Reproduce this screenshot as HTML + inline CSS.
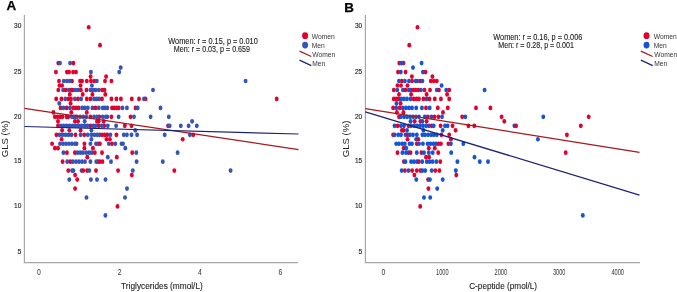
<!DOCTYPE html>
<html><head><meta charset="utf-8"><style>
html,body{margin:0;padding:0;background:#fff;width:677px;height:292px;overflow:hidden}
svg{display:block}
text{font-family:"Liberation Sans", sans-serif}
svg{will-change:transform}
</style></head><body>
<svg width="677" height="292" viewBox="0 0 677 292">
<rect width="677" height="292" fill="#fff"/>
<line x1="24.4" y1="15" x2="24.4" y2="262.6" stroke="#a6a6a6" stroke-width="1.2"/>
<line x1="23.799999999999997" y1="262.6" x2="298" y2="262.6" stroke="#a6a6a6" stroke-width="1.2"/>
<text x="6.5" y="10.4" font-size="13.4" text-anchor="start" font-weight="bold" fill="#000" stroke="#000" stroke-width="0.25">A</text>
<text x="21.3" y="28.0" font-size="8.0" text-anchor="end" font-weight="normal" fill="#222" textLength="7.3" lengthAdjust="spacingAndGlyphs" stroke="#222" stroke-width="0.15">30</text>
<text x="21.3" y="74.19999999999999" font-size="8.0" text-anchor="end" font-weight="normal" fill="#222" textLength="7.3" lengthAdjust="spacingAndGlyphs" stroke="#222" stroke-width="0.15">25</text>
<text x="21.3" y="118.89999999999999" font-size="8.0" text-anchor="end" font-weight="normal" fill="#222" textLength="7.3" lengthAdjust="spacingAndGlyphs" stroke="#222" stroke-width="0.15">20</text>
<text x="21.3" y="163.1" font-size="8.0" text-anchor="end" font-weight="normal" fill="#222" textLength="7.3" lengthAdjust="spacingAndGlyphs" stroke="#222" stroke-width="0.15">15</text>
<text x="21.3" y="207.9" font-size="8.0" text-anchor="end" font-weight="normal" fill="#222" textLength="7.3" lengthAdjust="spacingAndGlyphs" stroke="#222" stroke-width="0.15">10</text>
<text x="21.3" y="254.4" font-size="8.0" text-anchor="end" font-weight="normal" fill="#222" textLength="3.8" lengthAdjust="spacingAndGlyphs" stroke="#222" stroke-width="0.15">5</text>
<text transform="translate(7.8,138.9) rotate(-90)" x="0" y="0" font-size="9" text-anchor="middle" fill="#222" textLength="36.5" lengthAdjust="spacingAndGlyphs">GLS (%)</text>
<text x="38.8" y="274.8" font-size="8.4" text-anchor="middle" font-weight="normal" fill="#333" textLength="3.8" lengthAdjust="spacingAndGlyphs" >0</text>
<text x="119.6" y="274.8" font-size="8.4" text-anchor="middle" font-weight="normal" fill="#333" textLength="3.8" lengthAdjust="spacingAndGlyphs" >2</text>
<text x="200" y="274.8" font-size="8.4" text-anchor="middle" font-weight="normal" fill="#333" textLength="3.8" lengthAdjust="spacingAndGlyphs" >4</text>
<text x="280.5" y="274.8" font-size="8.4" text-anchor="middle" font-weight="normal" fill="#333" textLength="3.8" lengthAdjust="spacingAndGlyphs" >6</text>
<text x="121.1" y="288.9" font-size="9.2" text-anchor="start" font-weight="normal" fill="#1a1a1a" textLength="81.70000000000002" lengthAdjust="spacingAndGlyphs" stroke="#1a1a1a" stroke-width="0.1">Triglycerides (mmol/L)</text>
<ellipse cx="88.7" cy="27.26" rx="1.95" ry="2.35" fill="#e4002b"/>
<ellipse cx="100.0" cy="45.18" rx="1.95" ry="2.35" fill="#e4002b"/>
<ellipse cx="58.3" cy="63.1" rx="1.95" ry="2.35" fill="#e4002b"/>
<ellipse cx="60.0" cy="63.1" rx="1.95" ry="2.35" fill="#3355bb"/>
<ellipse cx="70.1" cy="63.1" rx="1.95" ry="2.35" fill="#3355bb"/>
<ellipse cx="73.4" cy="63.1" rx="1.95" ry="2.35" fill="#e4002b"/>
<ellipse cx="120.7" cy="67.58" rx="1.95" ry="2.35" fill="#3355bb"/>
<ellipse cx="55.9" cy="72.06" rx="1.95" ry="2.35" fill="#e4002b"/>
<ellipse cx="66.9" cy="72.06" rx="1.95" ry="2.35" fill="#e4002b"/>
<ellipse cx="69.1" cy="72.06" rx="1.95" ry="2.35" fill="#e4002b"/>
<ellipse cx="73.1" cy="72.06" rx="1.95" ry="2.35" fill="#e4002b"/>
<ellipse cx="76.0" cy="72.06" rx="1.95" ry="2.35" fill="#e4002b"/>
<ellipse cx="90.9" cy="72.06" rx="1.95" ry="2.35" fill="#3355bb"/>
<ellipse cx="119.2" cy="72.06" rx="1.95" ry="2.35" fill="#3355bb"/>
<ellipse cx="90.6" cy="76.54" rx="1.95" ry="2.35" fill="#e4002b"/>
<ellipse cx="106.1" cy="76.54" rx="1.95" ry="2.35" fill="#e4002b"/>
<ellipse cx="59.0" cy="81.02" rx="1.95" ry="2.35" fill="#e4002b"/>
<ellipse cx="72.0" cy="81.02" rx="1.95" ry="2.35" fill="#e4002b"/>
<ellipse cx="63.8" cy="81.02" rx="1.95" ry="2.35" fill="#3355bb"/>
<ellipse cx="66.9" cy="81.02" rx="1.95" ry="2.35" fill="#3355bb"/>
<ellipse cx="69.8" cy="81.02" rx="1.95" ry="2.35" fill="#3355bb"/>
<ellipse cx="80.1" cy="81.02" rx="1.95" ry="2.35" fill="#e4002b"/>
<ellipse cx="82.1" cy="81.02" rx="1.95" ry="2.35" fill="#e4002b"/>
<ellipse cx="86.8" cy="81.02" rx="1.95" ry="2.35" fill="#e4002b"/>
<ellipse cx="90.9" cy="81.02" rx="1.95" ry="2.35" fill="#e4002b"/>
<ellipse cx="94.2" cy="81.02" rx="1.95" ry="2.35" fill="#e4002b"/>
<ellipse cx="96.8" cy="81.02" rx="1.95" ry="2.35" fill="#3355bb"/>
<ellipse cx="105.0" cy="81.02" rx="1.95" ry="2.35" fill="#e4002b"/>
<ellipse cx="111.4" cy="81.02" rx="1.95" ry="2.35" fill="#e4002b"/>
<ellipse cx="245.6" cy="81.02" rx="1.95" ry="2.35" fill="#3355bb"/>
<ellipse cx="59.5" cy="85.5" rx="1.95" ry="2.35" fill="#e4002b"/>
<ellipse cx="62.1" cy="85.5" rx="1.95" ry="2.35" fill="#e4002b"/>
<ellipse cx="80.6" cy="85.5" rx="1.95" ry="2.35" fill="#e4002b"/>
<ellipse cx="91.9" cy="85.5" rx="1.95" ry="2.35" fill="#3355bb"/>
<ellipse cx="58.3" cy="89.98" rx="1.95" ry="2.35" fill="#e4002b"/>
<ellipse cx="63.1" cy="89.98" rx="1.95" ry="2.35" fill="#3355bb"/>
<ellipse cx="65.7" cy="89.98" rx="1.95" ry="2.35" fill="#e4002b"/>
<ellipse cx="68.8" cy="89.98" rx="1.95" ry="2.35" fill="#3355bb"/>
<ellipse cx="71.3" cy="89.98" rx="1.95" ry="2.35" fill="#e4002b"/>
<ellipse cx="72.9" cy="89.98" rx="1.95" ry="2.35" fill="#e4002b"/>
<ellipse cx="75.5" cy="89.98" rx="1.95" ry="2.35" fill="#3355bb"/>
<ellipse cx="78.2" cy="89.98" rx="1.95" ry="2.35" fill="#3355bb"/>
<ellipse cx="80.9" cy="89.98" rx="1.95" ry="2.35" fill="#e4002b"/>
<ellipse cx="86.5" cy="89.98" rx="1.95" ry="2.35" fill="#e4002b"/>
<ellipse cx="90.4" cy="89.98" rx="1.95" ry="2.35" fill="#3355bb"/>
<ellipse cx="92.9" cy="89.98" rx="1.95" ry="2.35" fill="#3355bb"/>
<ellipse cx="95.5" cy="89.98" rx="1.95" ry="2.35" fill="#3355bb"/>
<ellipse cx="98.8" cy="89.98" rx="1.95" ry="2.35" fill="#3355bb"/>
<ellipse cx="102.2" cy="89.98" rx="1.95" ry="2.35" fill="#e4002b"/>
<ellipse cx="104.5" cy="89.98" rx="1.95" ry="2.35" fill="#e4002b"/>
<ellipse cx="153.0" cy="89.98" rx="1.95" ry="2.35" fill="#3355bb"/>
<ellipse cx="69.8" cy="94.46" rx="1.95" ry="2.35" fill="#e4002b"/>
<ellipse cx="82.7" cy="94.46" rx="1.95" ry="2.35" fill="#e4002b"/>
<ellipse cx="92.4" cy="94.46" rx="1.95" ry="2.35" fill="#e4002b"/>
<ellipse cx="105.3" cy="94.46" rx="1.95" ry="2.35" fill="#e4002b"/>
<ellipse cx="56.2" cy="98.94" rx="1.95" ry="2.35" fill="#e4002b"/>
<ellipse cx="61.4" cy="98.94" rx="1.95" ry="2.35" fill="#e4002b"/>
<ellipse cx="65.2" cy="98.94" rx="1.95" ry="2.35" fill="#3355bb"/>
<ellipse cx="68.3" cy="98.94" rx="1.95" ry="2.35" fill="#e4002b"/>
<ellipse cx="71.0" cy="98.94" rx="1.95" ry="2.35" fill="#e4002b"/>
<ellipse cx="74.9" cy="98.94" rx="1.95" ry="2.35" fill="#3355bb"/>
<ellipse cx="78.0" cy="98.94" rx="1.95" ry="2.35" fill="#e4002b"/>
<ellipse cx="81.1" cy="98.94" rx="1.95" ry="2.35" fill="#3355bb"/>
<ellipse cx="86.8" cy="98.94" rx="1.95" ry="2.35" fill="#e4002b"/>
<ellipse cx="90.4" cy="98.94" rx="1.95" ry="2.35" fill="#e4002b"/>
<ellipse cx="94.0" cy="98.94" rx="1.95" ry="2.35" fill="#3355bb"/>
<ellipse cx="96.5" cy="98.94" rx="1.95" ry="2.35" fill="#3355bb"/>
<ellipse cx="99.1" cy="98.94" rx="1.95" ry="2.35" fill="#3355bb"/>
<ellipse cx="102.0" cy="98.94" rx="1.95" ry="2.35" fill="#e4002b"/>
<ellipse cx="111.4" cy="98.94" rx="1.95" ry="2.35" fill="#e4002b"/>
<ellipse cx="116.4" cy="98.94" rx="1.95" ry="2.35" fill="#e4002b"/>
<ellipse cx="120.9" cy="98.94" rx="1.95" ry="2.35" fill="#e4002b"/>
<ellipse cx="131.8" cy="98.94" rx="1.95" ry="2.35" fill="#e4002b"/>
<ellipse cx="139.0" cy="98.94" rx="1.95" ry="2.35" fill="#e4002b"/>
<ellipse cx="145.5" cy="98.94" rx="1.95" ry="2.35" fill="#e4002b"/>
<ellipse cx="144.0" cy="98.94" rx="1.95" ry="2.35" fill="#3355bb"/>
<ellipse cx="276.7" cy="98.94" rx="1.95" ry="2.35" fill="#e4002b"/>
<ellipse cx="59.3" cy="103.42" rx="1.95" ry="2.35" fill="#3355bb"/>
<ellipse cx="70.6" cy="103.42" rx="1.95" ry="2.35" fill="#e4002b"/>
<ellipse cx="60.6" cy="107.9" rx="1.95" ry="2.35" fill="#e4002b"/>
<ellipse cx="63.4" cy="107.9" rx="1.95" ry="2.35" fill="#3355bb"/>
<ellipse cx="66.7" cy="107.9" rx="1.95" ry="2.35" fill="#e4002b"/>
<ellipse cx="70.0" cy="107.9" rx="1.95" ry="2.35" fill="#3355bb"/>
<ellipse cx="73.4" cy="107.9" rx="1.95" ry="2.35" fill="#e4002b"/>
<ellipse cx="76.0" cy="107.9" rx="1.95" ry="2.35" fill="#e4002b"/>
<ellipse cx="78.5" cy="107.9" rx="1.95" ry="2.35" fill="#e4002b"/>
<ellipse cx="82.1" cy="107.9" rx="1.95" ry="2.35" fill="#3355bb"/>
<ellipse cx="84.7" cy="107.9" rx="1.95" ry="2.35" fill="#3355bb"/>
<ellipse cx="87.8" cy="107.9" rx="1.95" ry="2.35" fill="#3355bb"/>
<ellipse cx="92.4" cy="107.9" rx="1.95" ry="2.35" fill="#3355bb"/>
<ellipse cx="95.5" cy="107.9" rx="1.95" ry="2.35" fill="#e4002b"/>
<ellipse cx="98.8" cy="107.9" rx="1.95" ry="2.35" fill="#3355bb"/>
<ellipse cx="102.7" cy="107.9" rx="1.95" ry="2.35" fill="#3355bb"/>
<ellipse cx="104.8" cy="107.9" rx="1.95" ry="2.35" fill="#3355bb"/>
<ellipse cx="107.3" cy="107.9" rx="1.95" ry="2.35" fill="#3355bb"/>
<ellipse cx="112.0" cy="107.9" rx="1.95" ry="2.35" fill="#e4002b"/>
<ellipse cx="114.0" cy="107.9" rx="1.95" ry="2.35" fill="#e4002b"/>
<ellipse cx="116.6" cy="107.9" rx="1.95" ry="2.35" fill="#e4002b"/>
<ellipse cx="118.8" cy="107.9" rx="1.95" ry="2.35" fill="#e4002b"/>
<ellipse cx="122.5" cy="107.9" rx="1.95" ry="2.35" fill="#3355bb"/>
<ellipse cx="126.9" cy="107.9" rx="1.95" ry="2.35" fill="#3355bb"/>
<ellipse cx="135.6" cy="107.9" rx="1.95" ry="2.35" fill="#e4002b"/>
<ellipse cx="137.7" cy="107.9" rx="1.95" ry="2.35" fill="#3355bb"/>
<ellipse cx="160.5" cy="107.9" rx="1.95" ry="2.35" fill="#3355bb"/>
<ellipse cx="53.4" cy="112.38" rx="1.95" ry="2.35" fill="#e4002b"/>
<ellipse cx="71.3" cy="112.38" rx="1.95" ry="2.35" fill="#e4002b"/>
<ellipse cx="86.8" cy="112.38" rx="1.95" ry="2.35" fill="#e4002b"/>
<ellipse cx="54.9" cy="116.86" rx="1.95" ry="2.35" fill="#e4002b"/>
<ellipse cx="57.5" cy="116.86" rx="1.95" ry="2.35" fill="#e4002b"/>
<ellipse cx="60.0" cy="116.86" rx="1.95" ry="2.35" fill="#e4002b"/>
<ellipse cx="62.4" cy="116.86" rx="1.95" ry="2.35" fill="#e4002b"/>
<ellipse cx="66.5" cy="116.86" rx="1.95" ry="2.35" fill="#e4002b"/>
<ellipse cx="68.3" cy="116.86" rx="1.95" ry="2.35" fill="#e4002b"/>
<ellipse cx="75.5" cy="116.86" rx="1.95" ry="2.35" fill="#e4002b"/>
<ellipse cx="71.9" cy="116.86" rx="1.95" ry="2.35" fill="#3355bb"/>
<ellipse cx="73.9" cy="116.86" rx="1.95" ry="2.35" fill="#3355bb"/>
<ellipse cx="77.0" cy="116.86" rx="1.95" ry="2.35" fill="#3355bb"/>
<ellipse cx="80.1" cy="116.86" rx="1.95" ry="2.35" fill="#3355bb"/>
<ellipse cx="83.2" cy="116.86" rx="1.95" ry="2.35" fill="#3355bb"/>
<ellipse cx="86.2" cy="116.86" rx="1.95" ry="2.35" fill="#3355bb"/>
<ellipse cx="90.4" cy="116.86" rx="1.95" ry="2.35" fill="#e4002b"/>
<ellipse cx="99.3" cy="116.86" rx="1.95" ry="2.35" fill="#e4002b"/>
<ellipse cx="94.0" cy="116.86" rx="1.95" ry="2.35" fill="#3355bb"/>
<ellipse cx="97.0" cy="116.86" rx="1.95" ry="2.35" fill="#3355bb"/>
<ellipse cx="102.7" cy="116.86" rx="1.95" ry="2.35" fill="#3355bb"/>
<ellipse cx="105.8" cy="116.86" rx="1.95" ry="2.35" fill="#3355bb"/>
<ellipse cx="107.3" cy="116.86" rx="1.95" ry="2.35" fill="#3355bb"/>
<ellipse cx="111.4" cy="116.86" rx="1.95" ry="2.35" fill="#e4002b"/>
<ellipse cx="118.6" cy="116.86" rx="1.95" ry="2.35" fill="#3355bb"/>
<ellipse cx="130.5" cy="116.86" rx="1.95" ry="2.35" fill="#e4002b"/>
<ellipse cx="134.0" cy="116.86" rx="1.95" ry="2.35" fill="#3355bb"/>
<ellipse cx="150.6" cy="116.86" rx="1.95" ry="2.35" fill="#3355bb"/>
<ellipse cx="168.8" cy="116.86" rx="1.95" ry="2.35" fill="#3355bb"/>
<ellipse cx="58.0" cy="121.34" rx="1.95" ry="2.35" fill="#e4002b"/>
<ellipse cx="74.9" cy="121.34" rx="1.95" ry="2.35" fill="#e4002b"/>
<ellipse cx="78.0" cy="121.34" rx="1.95" ry="2.35" fill="#e4002b"/>
<ellipse cx="84.7" cy="121.34" rx="1.95" ry="2.35" fill="#3355bb"/>
<ellipse cx="97.0" cy="121.34" rx="1.95" ry="2.35" fill="#e4002b"/>
<ellipse cx="98.6" cy="121.34" rx="1.95" ry="2.35" fill="#e4002b"/>
<ellipse cx="103.7" cy="121.34" rx="1.95" ry="2.35" fill="#e4002b"/>
<ellipse cx="192.1" cy="121.34" rx="1.95" ry="2.35" fill="#3355bb"/>
<ellipse cx="58.0" cy="125.82" rx="1.95" ry="2.35" fill="#e4002b"/>
<ellipse cx="90.4" cy="125.82" rx="1.95" ry="2.35" fill="#e4002b"/>
<ellipse cx="98.6" cy="125.82" rx="1.95" ry="2.35" fill="#e4002b"/>
<ellipse cx="104.2" cy="125.82" rx="1.95" ry="2.35" fill="#e4002b"/>
<ellipse cx="60.6" cy="125.82" rx="1.95" ry="2.35" fill="#3355bb"/>
<ellipse cx="63.5" cy="125.82" rx="1.95" ry="2.35" fill="#3355bb"/>
<ellipse cx="66.5" cy="125.82" rx="1.95" ry="2.35" fill="#3355bb"/>
<ellipse cx="69.5" cy="125.82" rx="1.95" ry="2.35" fill="#3355bb"/>
<ellipse cx="72.5" cy="125.82" rx="1.95" ry="2.35" fill="#3355bb"/>
<ellipse cx="75.5" cy="125.82" rx="1.95" ry="2.35" fill="#3355bb"/>
<ellipse cx="78.5" cy="125.82" rx="1.95" ry="2.35" fill="#3355bb"/>
<ellipse cx="81.5" cy="125.82" rx="1.95" ry="2.35" fill="#3355bb"/>
<ellipse cx="84.5" cy="125.82" rx="1.95" ry="2.35" fill="#3355bb"/>
<ellipse cx="87.5" cy="125.82" rx="1.95" ry="2.35" fill="#3355bb"/>
<ellipse cx="93.4" cy="125.82" rx="1.95" ry="2.35" fill="#3355bb"/>
<ellipse cx="95.5" cy="125.82" rx="1.95" ry="2.35" fill="#3355bb"/>
<ellipse cx="101.7" cy="125.82" rx="1.95" ry="2.35" fill="#3355bb"/>
<ellipse cx="107.8" cy="125.82" rx="1.95" ry="2.35" fill="#3355bb"/>
<ellipse cx="116.1" cy="125.82" rx="1.95" ry="2.35" fill="#3355bb"/>
<ellipse cx="124.8" cy="125.82" rx="1.95" ry="2.35" fill="#e4002b"/>
<ellipse cx="131.5" cy="125.82" rx="1.95" ry="2.35" fill="#e4002b"/>
<ellipse cx="168.1" cy="125.82" rx="1.95" ry="2.35" fill="#e4002b"/>
<ellipse cx="169.7" cy="125.82" rx="1.95" ry="2.35" fill="#3355bb"/>
<ellipse cx="180.8" cy="125.82" rx="1.95" ry="2.35" fill="#3355bb"/>
<ellipse cx="188.6" cy="125.82" rx="1.95" ry="2.35" fill="#3355bb"/>
<ellipse cx="196.8" cy="125.82" rx="1.95" ry="2.35" fill="#3355bb"/>
<ellipse cx="62.1" cy="130.3" rx="1.95" ry="2.35" fill="#e4002b"/>
<ellipse cx="69.3" cy="130.3" rx="1.95" ry="2.35" fill="#e4002b"/>
<ellipse cx="80.6" cy="130.3" rx="1.95" ry="2.35" fill="#e4002b"/>
<ellipse cx="91.4" cy="130.3" rx="1.95" ry="2.35" fill="#3355bb"/>
<ellipse cx="135.3" cy="130.3" rx="1.95" ry="2.35" fill="#3355bb"/>
<ellipse cx="56.4" cy="134.78" rx="1.95" ry="2.35" fill="#e4002b"/>
<ellipse cx="59.5" cy="134.78" rx="1.95" ry="2.35" fill="#3355bb"/>
<ellipse cx="62.5" cy="134.78" rx="1.95" ry="2.35" fill="#3355bb"/>
<ellipse cx="65.5" cy="134.78" rx="1.95" ry="2.35" fill="#3355bb"/>
<ellipse cx="68.5" cy="134.78" rx="1.95" ry="2.35" fill="#3355bb"/>
<ellipse cx="71.5" cy="134.78" rx="1.95" ry="2.35" fill="#3355bb"/>
<ellipse cx="75.5" cy="134.78" rx="1.95" ry="2.35" fill="#e4002b"/>
<ellipse cx="80.6" cy="134.78" rx="1.95" ry="2.35" fill="#3355bb"/>
<ellipse cx="84.2" cy="134.78" rx="1.95" ry="2.35" fill="#e4002b"/>
<ellipse cx="87.8" cy="134.78" rx="1.95" ry="2.35" fill="#3355bb"/>
<ellipse cx="91.4" cy="134.78" rx="1.95" ry="2.35" fill="#3355bb"/>
<ellipse cx="94.5" cy="134.78" rx="1.95" ry="2.35" fill="#3355bb"/>
<ellipse cx="97.3" cy="134.78" rx="1.95" ry="2.35" fill="#3355bb"/>
<ellipse cx="99.6" cy="134.78" rx="1.95" ry="2.35" fill="#3355bb"/>
<ellipse cx="102.2" cy="134.78" rx="1.95" ry="2.35" fill="#e4002b"/>
<ellipse cx="104.8" cy="134.78" rx="1.95" ry="2.35" fill="#e4002b"/>
<ellipse cx="107.3" cy="134.78" rx="1.95" ry="2.35" fill="#e4002b"/>
<ellipse cx="110.4" cy="134.78" rx="1.95" ry="2.35" fill="#3355bb"/>
<ellipse cx="116.4" cy="134.78" rx="1.95" ry="2.35" fill="#e4002b"/>
<ellipse cx="123.8" cy="134.78" rx="1.95" ry="2.35" fill="#3355bb"/>
<ellipse cx="126.9" cy="134.78" rx="1.95" ry="2.35" fill="#3355bb"/>
<ellipse cx="131.5" cy="134.78" rx="1.95" ry="2.35" fill="#3355bb"/>
<ellipse cx="137.1" cy="134.78" rx="1.95" ry="2.35" fill="#3355bb"/>
<ellipse cx="164.7" cy="134.78" rx="1.95" ry="2.35" fill="#3355bb"/>
<ellipse cx="189.9" cy="134.78" rx="1.95" ry="2.35" fill="#3355bb"/>
<ellipse cx="193.3" cy="134.78" rx="1.95" ry="2.35" fill="#e4002b"/>
<ellipse cx="61.6" cy="139.26" rx="1.95" ry="2.35" fill="#e4002b"/>
<ellipse cx="91.4" cy="139.26" rx="1.95" ry="2.35" fill="#3355bb"/>
<ellipse cx="106.5" cy="139.26" rx="1.95" ry="2.35" fill="#e4002b"/>
<ellipse cx="109.9" cy="139.26" rx="1.95" ry="2.35" fill="#e4002b"/>
<ellipse cx="182.7" cy="139.26" rx="1.95" ry="2.35" fill="#e4002b"/>
<ellipse cx="52.1" cy="143.74" rx="1.95" ry="2.35" fill="#e4002b"/>
<ellipse cx="60.0" cy="143.74" rx="1.95" ry="2.35" fill="#3355bb"/>
<ellipse cx="63.0" cy="143.74" rx="1.95" ry="2.35" fill="#3355bb"/>
<ellipse cx="66.0" cy="143.74" rx="1.95" ry="2.35" fill="#3355bb"/>
<ellipse cx="69.0" cy="143.74" rx="1.95" ry="2.35" fill="#3355bb"/>
<ellipse cx="72.0" cy="143.74" rx="1.95" ry="2.35" fill="#3355bb"/>
<ellipse cx="75.0" cy="143.74" rx="1.95" ry="2.35" fill="#3355bb"/>
<ellipse cx="76.5" cy="143.74" rx="1.95" ry="2.35" fill="#3355bb"/>
<ellipse cx="84.4" cy="143.74" rx="1.95" ry="2.35" fill="#e4002b"/>
<ellipse cx="90.4" cy="143.74" rx="1.95" ry="2.35" fill="#3355bb"/>
<ellipse cx="96.0" cy="143.74" rx="1.95" ry="2.35" fill="#3355bb"/>
<ellipse cx="98.1" cy="143.74" rx="1.95" ry="2.35" fill="#3355bb"/>
<ellipse cx="99.9" cy="143.74" rx="1.95" ry="2.35" fill="#e4002b"/>
<ellipse cx="108.9" cy="143.74" rx="1.95" ry="2.35" fill="#3355bb"/>
<ellipse cx="112.0" cy="143.74" rx="1.95" ry="2.35" fill="#e4002b"/>
<ellipse cx="115.3" cy="143.74" rx="1.95" ry="2.35" fill="#3355bb"/>
<ellipse cx="121.5" cy="143.74" rx="1.95" ry="2.35" fill="#3355bb"/>
<ellipse cx="123.0" cy="143.74" rx="1.95" ry="2.35" fill="#3355bb"/>
<ellipse cx="54.9" cy="148.22" rx="1.95" ry="2.35" fill="#e4002b"/>
<ellipse cx="58.0" cy="148.22" rx="1.95" ry="2.35" fill="#e4002b"/>
<ellipse cx="84.4" cy="148.22" rx="1.95" ry="2.35" fill="#e4002b"/>
<ellipse cx="92.9" cy="148.22" rx="1.95" ry="2.35" fill="#e4002b"/>
<ellipse cx="125.3" cy="148.22" rx="1.95" ry="2.35" fill="#3355bb"/>
<ellipse cx="63.4" cy="152.7" rx="1.95" ry="2.35" fill="#3355bb"/>
<ellipse cx="66.9" cy="152.7" rx="1.95" ry="2.35" fill="#e4002b"/>
<ellipse cx="74.9" cy="152.7" rx="1.95" ry="2.35" fill="#e4002b"/>
<ellipse cx="77.5" cy="152.7" rx="1.95" ry="2.35" fill="#3355bb"/>
<ellipse cx="80.3" cy="152.7" rx="1.95" ry="2.35" fill="#3355bb"/>
<ellipse cx="83.0" cy="152.7" rx="1.95" ry="2.35" fill="#3355bb"/>
<ellipse cx="86.2" cy="152.7" rx="1.95" ry="2.35" fill="#3355bb"/>
<ellipse cx="89.3" cy="152.7" rx="1.95" ry="2.35" fill="#3355bb"/>
<ellipse cx="91.9" cy="152.7" rx="1.95" ry="2.35" fill="#3355bb"/>
<ellipse cx="94.8" cy="152.7" rx="1.95" ry="2.35" fill="#e4002b"/>
<ellipse cx="102.0" cy="152.7" rx="1.95" ry="2.35" fill="#e4002b"/>
<ellipse cx="132.2" cy="152.7" rx="1.95" ry="2.35" fill="#e4002b"/>
<ellipse cx="136.3" cy="152.7" rx="1.95" ry="2.35" fill="#3355bb"/>
<ellipse cx="177.6" cy="152.7" rx="1.95" ry="2.35" fill="#3355bb"/>
<ellipse cx="87.3" cy="157.18" rx="1.95" ry="2.35" fill="#e4002b"/>
<ellipse cx="107.8" cy="157.18" rx="1.95" ry="2.35" fill="#3355bb"/>
<ellipse cx="116.8" cy="157.18" rx="1.95" ry="2.35" fill="#e4002b"/>
<ellipse cx="62.6" cy="161.66" rx="1.95" ry="2.35" fill="#e4002b"/>
<ellipse cx="67.2" cy="161.66" rx="1.95" ry="2.35" fill="#3355bb"/>
<ellipse cx="70.3" cy="161.66" rx="1.95" ry="2.35" fill="#e4002b"/>
<ellipse cx="72.9" cy="161.66" rx="1.95" ry="2.35" fill="#3355bb"/>
<ellipse cx="76.0" cy="161.66" rx="1.95" ry="2.35" fill="#3355bb"/>
<ellipse cx="79.0" cy="161.66" rx="1.95" ry="2.35" fill="#3355bb"/>
<ellipse cx="82.0" cy="161.66" rx="1.95" ry="2.35" fill="#3355bb"/>
<ellipse cx="85.0" cy="161.66" rx="1.95" ry="2.35" fill="#3355bb"/>
<ellipse cx="90.4" cy="161.66" rx="1.95" ry="2.35" fill="#3355bb"/>
<ellipse cx="96.3" cy="161.66" rx="1.95" ry="2.35" fill="#3355bb"/>
<ellipse cx="97.9" cy="161.66" rx="1.95" ry="2.35" fill="#3355bb"/>
<ellipse cx="99.6" cy="161.66" rx="1.95" ry="2.35" fill="#e4002b"/>
<ellipse cx="102.4" cy="161.66" rx="1.95" ry="2.35" fill="#e4002b"/>
<ellipse cx="111.0" cy="161.66" rx="1.95" ry="2.35" fill="#3355bb"/>
<ellipse cx="136.6" cy="161.66" rx="1.95" ry="2.35" fill="#3355bb"/>
<ellipse cx="162.8" cy="161.66" rx="1.95" ry="2.35" fill="#3355bb"/>
<ellipse cx="68.3" cy="170.62" rx="1.95" ry="2.35" fill="#e4002b"/>
<ellipse cx="72.1" cy="170.62" rx="1.95" ry="2.35" fill="#3355bb"/>
<ellipse cx="73.4" cy="170.62" rx="1.95" ry="2.35" fill="#3355bb"/>
<ellipse cx="81.6" cy="170.62" rx="1.95" ry="2.35" fill="#3355bb"/>
<ellipse cx="83.2" cy="170.62" rx="1.95" ry="2.35" fill="#e4002b"/>
<ellipse cx="87.1" cy="170.62" rx="1.95" ry="2.35" fill="#e4002b"/>
<ellipse cx="89.3" cy="170.62" rx="1.95" ry="2.35" fill="#3355bb"/>
<ellipse cx="96.0" cy="170.62" rx="1.95" ry="2.35" fill="#e4002b"/>
<ellipse cx="118.1" cy="170.62" rx="1.95" ry="2.35" fill="#e4002b"/>
<ellipse cx="132.8" cy="170.62" rx="1.95" ry="2.35" fill="#3355bb"/>
<ellipse cx="174.3" cy="170.62" rx="1.95" ry="2.35" fill="#e4002b"/>
<ellipse cx="230.6" cy="170.62" rx="1.95" ry="2.35" fill="#3355bb"/>
<ellipse cx="75.1" cy="175.1" rx="1.95" ry="2.35" fill="#e4002b"/>
<ellipse cx="131.8" cy="175.1" rx="1.95" ry="2.35" fill="#e4002b"/>
<ellipse cx="69.3" cy="179.58" rx="1.95" ry="2.35" fill="#3355bb"/>
<ellipse cx="77.2" cy="179.58" rx="1.95" ry="2.35" fill="#e4002b"/>
<ellipse cx="90.9" cy="179.58" rx="1.95" ry="2.35" fill="#3355bb"/>
<ellipse cx="97.0" cy="179.58" rx="1.95" ry="2.35" fill="#3355bb"/>
<ellipse cx="105.5" cy="179.58" rx="1.95" ry="2.35" fill="#3355bb"/>
<ellipse cx="75.1" cy="188.54" rx="1.95" ry="2.35" fill="#e4002b"/>
<ellipse cx="127.0" cy="188.54" rx="1.95" ry="2.35" fill="#3355bb"/>
<ellipse cx="86.5" cy="197.5" rx="1.95" ry="2.35" fill="#3355bb"/>
<ellipse cx="125.0" cy="197.5" rx="1.95" ry="2.35" fill="#3355bb"/>
<ellipse cx="117.5" cy="206.46" rx="1.95" ry="2.35" fill="#e4002b"/>
<ellipse cx="105.4" cy="215.42" rx="1.95" ry="2.35" fill="#3355bb"/>
<line x1="24.4" y1="108.3" x2="298.5" y2="149.6" stroke="#a8181c" stroke-width="1.25"/>
<line x1="24.4" y1="126.5" x2="298.5" y2="134" stroke="#1e2272" stroke-width="1.25"/>
<text x="168.3" y="44.2" font-size="8.9" text-anchor="start" font-weight="normal" fill="#1a1a1a" textLength="89.5" lengthAdjust="spacingAndGlyphs" stroke="#1a1a1a" stroke-width="0.12">Women: r = 0.15, p = 0.010</text>
<text x="173.8" y="52.2" font-size="8.9" text-anchor="start" font-weight="normal" fill="#1a1a1a" textLength="76.2" lengthAdjust="spacingAndGlyphs" stroke="#1a1a1a" stroke-width="0.12">Men: r = 0.03, p = 0.659</text>
<ellipse cx="305.1" cy="35.7" rx="3.0" ry="3.4" fill="#e4002b"/>
<ellipse cx="305.1" cy="45.1" rx="3.0" ry="3.4" fill="#3355bb"/>
<line x1="299.5" y1="51.1" x2="311.3" y2="56.5" stroke="#a8181c" stroke-width="1.2"/>
<line x1="299.5" y1="60.1" x2="311.3" y2="65.6" stroke="#1e2272" stroke-width="1.2"/>
<text x="311.8" y="39.3" font-size="7.7" text-anchor="start" font-weight="normal" fill="#333" textLength="23" lengthAdjust="spacingAndGlyphs" >Women</text>
<text x="311.8" y="47.8" font-size="7.7" text-anchor="start" font-weight="normal" fill="#333" textLength="13" lengthAdjust="spacingAndGlyphs" >Men</text>
<text x="312.3" y="56.7" font-size="7.7" text-anchor="start" font-weight="normal" fill="#333" textLength="23" lengthAdjust="spacingAndGlyphs" >Women</text>
<text x="312.3" y="65.7" font-size="7.7" text-anchor="start" font-weight="normal" fill="#333" textLength="13" lengthAdjust="spacingAndGlyphs" >Men</text>
<line x1="365.4" y1="15" x2="365.4" y2="262.6" stroke="#a6a6a6" stroke-width="1.2"/>
<line x1="364.79999999999995" y1="262.6" x2="640" y2="262.6" stroke="#a6a6a6" stroke-width="1.2"/>
<text x="344.3" y="12.4" font-size="13.4" text-anchor="start" font-weight="bold" fill="#000" stroke="#000" stroke-width="0.25">B</text>
<text x="362.2" y="28.0" font-size="8.0" text-anchor="end" font-weight="normal" fill="#222" textLength="7.3" lengthAdjust="spacingAndGlyphs" stroke="#222" stroke-width="0.15">30</text>
<text x="362.2" y="74.19999999999999" font-size="8.0" text-anchor="end" font-weight="normal" fill="#222" textLength="7.3" lengthAdjust="spacingAndGlyphs" stroke="#222" stroke-width="0.15">25</text>
<text x="362.2" y="118.89999999999999" font-size="8.0" text-anchor="end" font-weight="normal" fill="#222" textLength="7.3" lengthAdjust="spacingAndGlyphs" stroke="#222" stroke-width="0.15">20</text>
<text x="362.2" y="163.1" font-size="8.0" text-anchor="end" font-weight="normal" fill="#222" textLength="7.3" lengthAdjust="spacingAndGlyphs" stroke="#222" stroke-width="0.15">15</text>
<text x="362.2" y="207.9" font-size="8.0" text-anchor="end" font-weight="normal" fill="#222" textLength="7.3" lengthAdjust="spacingAndGlyphs" stroke="#222" stroke-width="0.15">10</text>
<text x="362.2" y="254.4" font-size="8.0" text-anchor="end" font-weight="normal" fill="#222" textLength="3.8" lengthAdjust="spacingAndGlyphs" stroke="#222" stroke-width="0.15">5</text>
<text transform="translate(348.8,138.9) rotate(-90)" x="0" y="0" font-size="9" text-anchor="middle" fill="#222" textLength="36.5" lengthAdjust="spacingAndGlyphs">GLS (%)</text>
<text x="383.5" y="274.8" font-size="8.4" text-anchor="middle" font-weight="normal" fill="#333" textLength="3.8" lengthAdjust="spacingAndGlyphs" >0</text>
<text x="442.3" y="274.8" font-size="8.4" text-anchor="middle" font-weight="normal" fill="#333" textLength="12.5" lengthAdjust="spacingAndGlyphs" >1000</text>
<text x="500.8" y="274.8" font-size="8.4" text-anchor="middle" font-weight="normal" fill="#333" textLength="12.5" lengthAdjust="spacingAndGlyphs" >2000</text>
<text x="559.2" y="274.8" font-size="8.4" text-anchor="middle" font-weight="normal" fill="#333" textLength="12.5" lengthAdjust="spacingAndGlyphs" >3000</text>
<text x="617.7" y="274.8" font-size="8.4" text-anchor="middle" font-weight="normal" fill="#333" textLength="12.5" lengthAdjust="spacingAndGlyphs" >4000</text>
<text x="469.2" y="288.9" font-size="9.2" text-anchor="start" font-weight="normal" fill="#1a1a1a" textLength="67.90000000000003" lengthAdjust="spacingAndGlyphs" stroke="#1a1a1a" stroke-width="0.1">C-peptide (pmol/L)</text>
<ellipse cx="417.5" cy="27.26" rx="1.95" ry="2.35" fill="#e4002b"/>
<ellipse cx="409.3" cy="45.18" rx="1.95" ry="2.35" fill="#e4002b"/>
<ellipse cx="399.3" cy="63.1" rx="1.95" ry="2.35" fill="#e4002b"/>
<ellipse cx="403.4" cy="63.1" rx="1.95" ry="2.35" fill="#e4002b"/>
<ellipse cx="401.3" cy="63.1" rx="1.95" ry="2.35" fill="#1455d6"/>
<ellipse cx="421.6" cy="63.1" rx="1.95" ry="2.35" fill="#1455d6"/>
<ellipse cx="413.0" cy="67.58" rx="1.95" ry="2.35" fill="#1455d6"/>
<ellipse cx="398.0" cy="72.06" rx="1.95" ry="2.35" fill="#e4002b"/>
<ellipse cx="405.5" cy="72.06" rx="1.95" ry="2.35" fill="#e4002b"/>
<ellipse cx="400.8" cy="72.06" rx="1.95" ry="2.35" fill="#1455d6"/>
<ellipse cx="422.9" cy="72.06" rx="1.95" ry="2.35" fill="#1455d6"/>
<ellipse cx="425.5" cy="72.06" rx="1.95" ry="2.35" fill="#e4002b"/>
<ellipse cx="411.9" cy="76.54" rx="1.95" ry="2.35" fill="#e4002b"/>
<ellipse cx="432.4" cy="76.54" rx="1.95" ry="2.35" fill="#e4002b"/>
<ellipse cx="399.0" cy="81.02" rx="1.95" ry="2.35" fill="#1455d6"/>
<ellipse cx="401.9" cy="81.02" rx="1.95" ry="2.35" fill="#e4002b"/>
<ellipse cx="404.9" cy="81.02" rx="1.95" ry="2.35" fill="#1455d6"/>
<ellipse cx="409.0" cy="81.02" rx="1.95" ry="2.35" fill="#1455d6"/>
<ellipse cx="412.1" cy="81.02" rx="1.95" ry="2.35" fill="#e4002b"/>
<ellipse cx="415.7" cy="81.02" rx="1.95" ry="2.35" fill="#1455d6"/>
<ellipse cx="417.3" cy="81.02" rx="1.95" ry="2.35" fill="#1455d6"/>
<ellipse cx="420.2" cy="81.02" rx="1.95" ry="2.35" fill="#e4002b"/>
<ellipse cx="422.4" cy="81.02" rx="1.95" ry="2.35" fill="#1455d6"/>
<ellipse cx="430.8" cy="81.02" rx="1.95" ry="2.35" fill="#e4002b"/>
<ellipse cx="433.8" cy="81.02" rx="1.95" ry="2.35" fill="#e4002b"/>
<ellipse cx="436.8" cy="81.02" rx="1.95" ry="2.35" fill="#e4002b"/>
<ellipse cx="397.5" cy="85.5" rx="1.95" ry="2.35" fill="#e4002b"/>
<ellipse cx="401.0" cy="85.5" rx="1.95" ry="2.35" fill="#e4002b"/>
<ellipse cx="407.5" cy="85.5" rx="1.95" ry="2.35" fill="#e4002b"/>
<ellipse cx="441.6" cy="85.5" rx="1.95" ry="2.35" fill="#1455d6"/>
<ellipse cx="393.8" cy="89.98" rx="1.95" ry="2.35" fill="#e4002b"/>
<ellipse cx="397.2" cy="89.98" rx="1.95" ry="2.35" fill="#1455d6"/>
<ellipse cx="402.9" cy="89.98" rx="1.95" ry="2.35" fill="#1455d6"/>
<ellipse cx="405.5" cy="89.98" rx="1.95" ry="2.35" fill="#e4002b"/>
<ellipse cx="408.8" cy="89.98" rx="1.95" ry="2.35" fill="#1455d6"/>
<ellipse cx="410.6" cy="89.98" rx="1.95" ry="2.35" fill="#1455d6"/>
<ellipse cx="413.2" cy="89.98" rx="1.95" ry="2.35" fill="#e4002b"/>
<ellipse cx="415.7" cy="89.98" rx="1.95" ry="2.35" fill="#e4002b"/>
<ellipse cx="418.3" cy="89.98" rx="1.95" ry="2.35" fill="#e4002b"/>
<ellipse cx="420.9" cy="89.98" rx="1.95" ry="2.35" fill="#1455d6"/>
<ellipse cx="424.5" cy="89.98" rx="1.95" ry="2.35" fill="#e4002b"/>
<ellipse cx="430.0" cy="89.98" rx="1.95" ry="2.35" fill="#e4002b"/>
<ellipse cx="436.8" cy="89.98" rx="1.95" ry="2.35" fill="#1455d6"/>
<ellipse cx="438.9" cy="89.98" rx="1.95" ry="2.35" fill="#e4002b"/>
<ellipse cx="446.2" cy="89.98" rx="1.95" ry="2.35" fill="#1455d6"/>
<ellipse cx="449.2" cy="89.98" rx="1.95" ry="2.35" fill="#e4002b"/>
<ellipse cx="484.6" cy="89.98" rx="1.95" ry="2.35" fill="#1455d6"/>
<ellipse cx="399.0" cy="94.46" rx="1.95" ry="2.35" fill="#e4002b"/>
<ellipse cx="411.1" cy="94.46" rx="1.95" ry="2.35" fill="#e4002b"/>
<ellipse cx="426.6" cy="94.46" rx="1.95" ry="2.35" fill="#e4002b"/>
<ellipse cx="447.1" cy="94.46" rx="1.95" ry="2.35" fill="#e4002b"/>
<ellipse cx="393.8" cy="98.94" rx="1.95" ry="2.35" fill="#e4002b"/>
<ellipse cx="396.5" cy="98.94" rx="1.95" ry="2.35" fill="#e4002b"/>
<ellipse cx="398.8" cy="98.94" rx="1.95" ry="2.35" fill="#e4002b"/>
<ellipse cx="401.3" cy="98.94" rx="1.95" ry="2.35" fill="#1455d6"/>
<ellipse cx="404.0" cy="98.94" rx="1.95" ry="2.35" fill="#1455d6"/>
<ellipse cx="407.0" cy="98.94" rx="1.95" ry="2.35" fill="#1455d6"/>
<ellipse cx="410.6" cy="98.94" rx="1.95" ry="2.35" fill="#1455d6"/>
<ellipse cx="413.7" cy="98.94" rx="1.95" ry="2.35" fill="#e4002b"/>
<ellipse cx="416.5" cy="98.94" rx="1.95" ry="2.35" fill="#e4002b"/>
<ellipse cx="419.0" cy="98.94" rx="1.95" ry="2.35" fill="#e4002b"/>
<ellipse cx="423.4" cy="98.94" rx="1.95" ry="2.35" fill="#e4002b"/>
<ellipse cx="426.6" cy="98.94" rx="1.95" ry="2.35" fill="#1455d6"/>
<ellipse cx="429.5" cy="98.94" rx="1.95" ry="2.35" fill="#e4002b"/>
<ellipse cx="434.8" cy="98.94" rx="1.95" ry="2.35" fill="#e4002b"/>
<ellipse cx="440.9" cy="98.94" rx="1.95" ry="2.35" fill="#e4002b"/>
<ellipse cx="449.2" cy="98.94" rx="1.95" ry="2.35" fill="#e4002b"/>
<ellipse cx="396.5" cy="103.42" rx="1.95" ry="2.35" fill="#1455d6"/>
<ellipse cx="400.6" cy="103.42" rx="1.95" ry="2.35" fill="#e4002b"/>
<ellipse cx="393.1" cy="107.9" rx="1.95" ry="2.35" fill="#e4002b"/>
<ellipse cx="396.2" cy="107.9" rx="1.95" ry="2.35" fill="#1455d6"/>
<ellipse cx="399.8" cy="107.9" rx="1.95" ry="2.35" fill="#e4002b"/>
<ellipse cx="402.9" cy="107.9" rx="1.95" ry="2.35" fill="#1455d6"/>
<ellipse cx="406.0" cy="107.9" rx="1.95" ry="2.35" fill="#1455d6"/>
<ellipse cx="409.0" cy="107.9" rx="1.95" ry="2.35" fill="#1455d6"/>
<ellipse cx="412.0" cy="107.9" rx="1.95" ry="2.35" fill="#1455d6"/>
<ellipse cx="416.2" cy="107.9" rx="1.95" ry="2.35" fill="#1455d6"/>
<ellipse cx="421.9" cy="107.9" rx="1.95" ry="2.35" fill="#1455d6"/>
<ellipse cx="426.0" cy="107.9" rx="1.95" ry="2.35" fill="#e4002b"/>
<ellipse cx="429.7" cy="107.9" rx="1.95" ry="2.35" fill="#1455d6"/>
<ellipse cx="437.8" cy="107.9" rx="1.95" ry="2.35" fill="#e4002b"/>
<ellipse cx="447.8" cy="107.9" rx="1.95" ry="2.35" fill="#e4002b"/>
<ellipse cx="476.0" cy="107.9" rx="1.95" ry="2.35" fill="#e4002b"/>
<ellipse cx="490.4" cy="107.9" rx="1.95" ry="2.35" fill="#e4002b"/>
<ellipse cx="396.9" cy="112.38" rx="1.95" ry="2.35" fill="#e4002b"/>
<ellipse cx="403.4" cy="112.38" rx="1.95" ry="2.35" fill="#e4002b"/>
<ellipse cx="443.0" cy="112.38" rx="1.95" ry="2.35" fill="#e4002b"/>
<ellipse cx="399.0" cy="116.86" rx="1.95" ry="2.35" fill="#e4002b"/>
<ellipse cx="427.8" cy="116.86" rx="1.95" ry="2.35" fill="#e4002b"/>
<ellipse cx="400.8" cy="116.86" rx="1.95" ry="2.35" fill="#1455d6"/>
<ellipse cx="404.0" cy="116.86" rx="1.95" ry="2.35" fill="#1455d6"/>
<ellipse cx="407.0" cy="116.86" rx="1.95" ry="2.35" fill="#1455d6"/>
<ellipse cx="410.0" cy="116.86" rx="1.95" ry="2.35" fill="#1455d6"/>
<ellipse cx="413.0" cy="116.86" rx="1.95" ry="2.35" fill="#1455d6"/>
<ellipse cx="416.0" cy="116.86" rx="1.95" ry="2.35" fill="#1455d6"/>
<ellipse cx="419.0" cy="116.86" rx="1.95" ry="2.35" fill="#1455d6"/>
<ellipse cx="424.8" cy="116.86" rx="1.95" ry="2.35" fill="#1455d6"/>
<ellipse cx="431.4" cy="116.86" rx="1.95" ry="2.35" fill="#1455d6"/>
<ellipse cx="434.5" cy="116.86" rx="1.95" ry="2.35" fill="#e4002b"/>
<ellipse cx="438.4" cy="116.86" rx="1.95" ry="2.35" fill="#e4002b"/>
<ellipse cx="442.0" cy="116.86" rx="1.95" ry="2.35" fill="#1455d6"/>
<ellipse cx="462.2" cy="116.86" rx="1.95" ry="2.35" fill="#e4002b"/>
<ellipse cx="465.3" cy="116.86" rx="1.95" ry="2.35" fill="#1455d6"/>
<ellipse cx="501.6" cy="116.86" rx="1.95" ry="2.35" fill="#e4002b"/>
<ellipse cx="543.3" cy="116.86" rx="1.95" ry="2.35" fill="#1455d6"/>
<ellipse cx="588.7" cy="116.86" rx="1.95" ry="2.35" fill="#e4002b"/>
<ellipse cx="410.6" cy="121.34" rx="1.95" ry="2.35" fill="#1455d6"/>
<ellipse cx="414.7" cy="121.34" rx="1.95" ry="2.35" fill="#e4002b"/>
<ellipse cx="420.4" cy="121.34" rx="1.95" ry="2.35" fill="#e4002b"/>
<ellipse cx="422.4" cy="121.34" rx="1.95" ry="2.35" fill="#1455d6"/>
<ellipse cx="426.6" cy="121.34" rx="1.95" ry="2.35" fill="#e4002b"/>
<ellipse cx="504.3" cy="121.34" rx="1.95" ry="2.35" fill="#e4002b"/>
<ellipse cx="394.5" cy="125.82" rx="1.95" ry="2.35" fill="#1455d6"/>
<ellipse cx="397.5" cy="125.82" rx="1.95" ry="2.35" fill="#e4002b"/>
<ellipse cx="400.8" cy="125.82" rx="1.95" ry="2.35" fill="#1455d6"/>
<ellipse cx="404.0" cy="125.82" rx="1.95" ry="2.35" fill="#1455d6"/>
<ellipse cx="408.5" cy="125.82" rx="1.95" ry="2.35" fill="#e4002b"/>
<ellipse cx="411.0" cy="125.82" rx="1.95" ry="2.35" fill="#1455d6"/>
<ellipse cx="414.0" cy="125.82" rx="1.95" ry="2.35" fill="#1455d6"/>
<ellipse cx="417.0" cy="125.82" rx="1.95" ry="2.35" fill="#1455d6"/>
<ellipse cx="420.0" cy="125.82" rx="1.95" ry="2.35" fill="#1455d6"/>
<ellipse cx="423.0" cy="125.82" rx="1.95" ry="2.35" fill="#1455d6"/>
<ellipse cx="426.2" cy="125.82" rx="1.95" ry="2.35" fill="#1455d6"/>
<ellipse cx="429.0" cy="125.82" rx="1.95" ry="2.35" fill="#1455d6"/>
<ellipse cx="431.7" cy="125.82" rx="1.95" ry="2.35" fill="#e4002b"/>
<ellipse cx="433.7" cy="125.82" rx="1.95" ry="2.35" fill="#1455d6"/>
<ellipse cx="440.6" cy="125.82" rx="1.95" ry="2.35" fill="#e4002b"/>
<ellipse cx="445.0" cy="125.82" rx="1.95" ry="2.35" fill="#1455d6"/>
<ellipse cx="447.6" cy="125.82" rx="1.95" ry="2.35" fill="#1455d6"/>
<ellipse cx="452.5" cy="125.82" rx="1.95" ry="2.35" fill="#e4002b"/>
<ellipse cx="468.4" cy="125.82" rx="1.95" ry="2.35" fill="#e4002b"/>
<ellipse cx="474.3" cy="125.82" rx="1.95" ry="2.35" fill="#e4002b"/>
<ellipse cx="514.4" cy="125.82" rx="1.95" ry="2.35" fill="#1455d6"/>
<ellipse cx="516.1" cy="125.82" rx="1.95" ry="2.35" fill="#e4002b"/>
<ellipse cx="580.8" cy="125.82" rx="1.95" ry="2.35" fill="#e4002b"/>
<ellipse cx="401.9" cy="130.3" rx="1.95" ry="2.35" fill="#e4002b"/>
<ellipse cx="403.4" cy="130.3" rx="1.95" ry="2.35" fill="#e4002b"/>
<ellipse cx="407.0" cy="130.3" rx="1.95" ry="2.35" fill="#1455d6"/>
<ellipse cx="423.4" cy="130.3" rx="1.95" ry="2.35" fill="#1455d6"/>
<ellipse cx="442.7" cy="130.3" rx="1.95" ry="2.35" fill="#1455d6"/>
<ellipse cx="455.6" cy="130.3" rx="1.95" ry="2.35" fill="#e4002b"/>
<ellipse cx="393.1" cy="134.78" rx="1.95" ry="2.35" fill="#e4002b"/>
<ellipse cx="394.7" cy="134.78" rx="1.95" ry="2.35" fill="#1455d6"/>
<ellipse cx="398.3" cy="134.78" rx="1.95" ry="2.35" fill="#1455d6"/>
<ellipse cx="401.0" cy="134.78" rx="1.95" ry="2.35" fill="#1455d6"/>
<ellipse cx="405.5" cy="134.78" rx="1.95" ry="2.35" fill="#1455d6"/>
<ellipse cx="407.8" cy="134.78" rx="1.95" ry="2.35" fill="#e4002b"/>
<ellipse cx="410.0" cy="134.78" rx="1.95" ry="2.35" fill="#1455d6"/>
<ellipse cx="413.0" cy="134.78" rx="1.95" ry="2.35" fill="#1455d6"/>
<ellipse cx="416.8" cy="134.78" rx="1.95" ry="2.35" fill="#1455d6"/>
<ellipse cx="422.4" cy="134.78" rx="1.95" ry="2.35" fill="#1455d6"/>
<ellipse cx="425.0" cy="134.78" rx="1.95" ry="2.35" fill="#1455d6"/>
<ellipse cx="428.0" cy="134.78" rx="1.95" ry="2.35" fill="#1455d6"/>
<ellipse cx="431.0" cy="134.78" rx="1.95" ry="2.35" fill="#1455d6"/>
<ellipse cx="433.7" cy="134.78" rx="1.95" ry="2.35" fill="#1455d6"/>
<ellipse cx="436.8" cy="134.78" rx="1.95" ry="2.35" fill="#1455d6"/>
<ellipse cx="441.4" cy="134.78" rx="1.95" ry="2.35" fill="#e4002b"/>
<ellipse cx="449.2" cy="134.78" rx="1.95" ry="2.35" fill="#e4002b"/>
<ellipse cx="566.9" cy="134.78" rx="1.95" ry="2.35" fill="#e4002b"/>
<ellipse cx="407.5" cy="139.26" rx="1.95" ry="2.35" fill="#e4002b"/>
<ellipse cx="416.2" cy="139.26" rx="1.95" ry="2.35" fill="#1455d6"/>
<ellipse cx="418.3" cy="139.26" rx="1.95" ry="2.35" fill="#e4002b"/>
<ellipse cx="450.9" cy="139.26" rx="1.95" ry="2.35" fill="#e4002b"/>
<ellipse cx="537.9" cy="139.26" rx="1.95" ry="2.35" fill="#1455d6"/>
<ellipse cx="396.2" cy="143.74" rx="1.95" ry="2.35" fill="#1455d6"/>
<ellipse cx="399.0" cy="143.74" rx="1.95" ry="2.35" fill="#1455d6"/>
<ellipse cx="402.2" cy="143.74" rx="1.95" ry="2.35" fill="#1455d6"/>
<ellipse cx="404.8" cy="143.74" rx="1.95" ry="2.35" fill="#1455d6"/>
<ellipse cx="409.6" cy="143.74" rx="1.95" ry="2.35" fill="#1455d6"/>
<ellipse cx="412.0" cy="143.74" rx="1.95" ry="2.35" fill="#1455d6"/>
<ellipse cx="416.8" cy="143.74" rx="1.95" ry="2.35" fill="#e4002b"/>
<ellipse cx="419.0" cy="143.74" rx="1.95" ry="2.35" fill="#1455d6"/>
<ellipse cx="422.9" cy="143.74" rx="1.95" ry="2.35" fill="#1455d6"/>
<ellipse cx="427.6" cy="143.74" rx="1.95" ry="2.35" fill="#1455d6"/>
<ellipse cx="430.5" cy="143.74" rx="1.95" ry="2.35" fill="#1455d6"/>
<ellipse cx="433.5" cy="143.74" rx="1.95" ry="2.35" fill="#1455d6"/>
<ellipse cx="436.0" cy="143.74" rx="1.95" ry="2.35" fill="#1455d6"/>
<ellipse cx="438.4" cy="143.74" rx="1.95" ry="2.35" fill="#e4002b"/>
<ellipse cx="440.9" cy="143.74" rx="1.95" ry="2.35" fill="#e4002b"/>
<ellipse cx="448.4" cy="143.74" rx="1.95" ry="2.35" fill="#e4002b"/>
<ellipse cx="450.9" cy="143.74" rx="1.95" ry="2.35" fill="#1455d6"/>
<ellipse cx="463.3" cy="143.74" rx="1.95" ry="2.35" fill="#1455d6"/>
<ellipse cx="403.7" cy="148.22" rx="1.95" ry="2.35" fill="#e4002b"/>
<ellipse cx="406.2" cy="148.22" rx="1.95" ry="2.35" fill="#1455d6"/>
<ellipse cx="428.8" cy="148.22" rx="1.95" ry="2.35" fill="#e4002b"/>
<ellipse cx="434.8" cy="148.22" rx="1.95" ry="2.35" fill="#e4002b"/>
<ellipse cx="397.5" cy="152.7" rx="1.95" ry="2.35" fill="#e4002b"/>
<ellipse cx="402.4" cy="152.7" rx="1.95" ry="2.35" fill="#1455d6"/>
<ellipse cx="406.0" cy="152.7" rx="1.95" ry="2.35" fill="#1455d6"/>
<ellipse cx="408.5" cy="152.7" rx="1.95" ry="2.35" fill="#1455d6"/>
<ellipse cx="410.5" cy="152.7" rx="1.95" ry="2.35" fill="#e4002b"/>
<ellipse cx="416.8" cy="152.7" rx="1.95" ry="2.35" fill="#1455d6"/>
<ellipse cx="421.4" cy="152.7" rx="1.95" ry="2.35" fill="#e4002b"/>
<ellipse cx="424.0" cy="152.7" rx="1.95" ry="2.35" fill="#1455d6"/>
<ellipse cx="428.8" cy="152.7" rx="1.95" ry="2.35" fill="#1455d6"/>
<ellipse cx="432.7" cy="152.7" rx="1.95" ry="2.35" fill="#1455d6"/>
<ellipse cx="438.2" cy="152.7" rx="1.95" ry="2.35" fill="#e4002b"/>
<ellipse cx="451.2" cy="152.7" rx="1.95" ry="2.35" fill="#1455d6"/>
<ellipse cx="565.7" cy="152.7" rx="1.95" ry="2.35" fill="#e4002b"/>
<ellipse cx="426.0" cy="157.18" rx="1.95" ry="2.35" fill="#e4002b"/>
<ellipse cx="429.1" cy="157.18" rx="1.95" ry="2.35" fill="#e4002b"/>
<ellipse cx="474.5" cy="157.18" rx="1.95" ry="2.35" fill="#1455d6"/>
<ellipse cx="403.9" cy="161.66" rx="1.95" ry="2.35" fill="#e4002b"/>
<ellipse cx="405.5" cy="161.66" rx="1.95" ry="2.35" fill="#1455d6"/>
<ellipse cx="411.1" cy="161.66" rx="1.95" ry="2.35" fill="#1455d6"/>
<ellipse cx="414.0" cy="161.66" rx="1.95" ry="2.35" fill="#1455d6"/>
<ellipse cx="417.0" cy="161.66" rx="1.95" ry="2.35" fill="#1455d6"/>
<ellipse cx="418.8" cy="161.66" rx="1.95" ry="2.35" fill="#e4002b"/>
<ellipse cx="422.2" cy="161.66" rx="1.95" ry="2.35" fill="#1455d6"/>
<ellipse cx="426.8" cy="161.66" rx="1.95" ry="2.35" fill="#1455d6"/>
<ellipse cx="429.5" cy="161.66" rx="1.95" ry="2.35" fill="#1455d6"/>
<ellipse cx="432.5" cy="161.66" rx="1.95" ry="2.35" fill="#1455d6"/>
<ellipse cx="436.3" cy="161.66" rx="1.95" ry="2.35" fill="#1455d6"/>
<ellipse cx="440.2" cy="161.66" rx="1.95" ry="2.35" fill="#e4002b"/>
<ellipse cx="457.4" cy="161.66" rx="1.95" ry="2.35" fill="#1455d6"/>
<ellipse cx="479.8" cy="161.66" rx="1.95" ry="2.35" fill="#1455d6"/>
<ellipse cx="488.0" cy="161.66" rx="1.95" ry="2.35" fill="#1455d6"/>
<ellipse cx="401.7" cy="170.62" rx="1.95" ry="2.35" fill="#1455d6"/>
<ellipse cx="404.9" cy="170.62" rx="1.95" ry="2.35" fill="#e4002b"/>
<ellipse cx="408.5" cy="170.62" rx="1.95" ry="2.35" fill="#1455d6"/>
<ellipse cx="412.1" cy="170.62" rx="1.95" ry="2.35" fill="#e4002b"/>
<ellipse cx="416.8" cy="170.62" rx="1.95" ry="2.35" fill="#e4002b"/>
<ellipse cx="420.4" cy="170.62" rx="1.95" ry="2.35" fill="#e4002b"/>
<ellipse cx="422.4" cy="170.62" rx="1.95" ry="2.35" fill="#1455d6"/>
<ellipse cx="425.2" cy="170.62" rx="1.95" ry="2.35" fill="#1455d6"/>
<ellipse cx="431.7" cy="170.62" rx="1.95" ry="2.35" fill="#1455d6"/>
<ellipse cx="435.3" cy="170.62" rx="1.95" ry="2.35" fill="#e4002b"/>
<ellipse cx="439.4" cy="170.62" rx="1.95" ry="2.35" fill="#e4002b"/>
<ellipse cx="455.8" cy="170.62" rx="1.95" ry="2.35" fill="#1455d6"/>
<ellipse cx="414.4" cy="175.1" rx="1.95" ry="2.35" fill="#e4002b"/>
<ellipse cx="456.3" cy="175.1" rx="1.95" ry="2.35" fill="#e4002b"/>
<ellipse cx="416.3" cy="179.58" rx="1.95" ry="2.35" fill="#1455d6"/>
<ellipse cx="428.1" cy="179.58" rx="1.95" ry="2.35" fill="#e4002b"/>
<ellipse cx="429.9" cy="179.58" rx="1.95" ry="2.35" fill="#1455d6"/>
<ellipse cx="442.7" cy="179.58" rx="1.95" ry="2.35" fill="#1455d6"/>
<ellipse cx="428.4" cy="188.54" rx="1.95" ry="2.35" fill="#e4002b"/>
<ellipse cx="437.2" cy="188.54" rx="1.95" ry="2.35" fill="#1455d6"/>
<ellipse cx="424.0" cy="197.5" rx="1.95" ry="2.35" fill="#1455d6"/>
<ellipse cx="430.2" cy="197.5" rx="1.95" ry="2.35" fill="#1455d6"/>
<ellipse cx="420.2" cy="206.46" rx="1.95" ry="2.35" fill="#e4002b"/>
<ellipse cx="582.8" cy="215.42" rx="1.95" ry="2.35" fill="#1455d6"/>
<line x1="365.3" y1="108.6" x2="639.5" y2="152.3" stroke="#a8181c" stroke-width="1.25"/>
<line x1="365.3" y1="111.8" x2="639.5" y2="195.1" stroke="#1e2272" stroke-width="1.25"/>
<text x="493.3" y="40.05" font-size="8.9" text-anchor="start" font-weight="normal" fill="#1a1a1a" textLength="89" lengthAdjust="spacingAndGlyphs" stroke="#1a1a1a" stroke-width="0.12">Women: r = 0.16, p = 0.006</text>
<text x="498.3" y="48.4" font-size="8.9" text-anchor="start" font-weight="normal" fill="#1a1a1a" textLength="75.6" lengthAdjust="spacingAndGlyphs" stroke="#1a1a1a" stroke-width="0.12">Men: r = 0.28, p = 0.001</text>
<ellipse cx="646.5" cy="35.7" rx="3.0" ry="3.4" fill="#e4002b"/>
<ellipse cx="646.5" cy="45.1" rx="3.0" ry="3.4" fill="#1455d6"/>
<line x1="640.9" y1="51.1" x2="652.7" y2="56.5" stroke="#a8181c" stroke-width="1.2"/>
<line x1="640.9" y1="60.1" x2="652.7" y2="65.6" stroke="#1e2272" stroke-width="1.2"/>
<text x="653.7" y="39.3" font-size="7.7" text-anchor="start" font-weight="normal" fill="#333" textLength="23" lengthAdjust="spacingAndGlyphs" >Women</text>
<text x="653.7" y="47.8" font-size="7.7" text-anchor="start" font-weight="normal" fill="#333" textLength="13" lengthAdjust="spacingAndGlyphs" >Men</text>
<text x="654.2" y="56.7" font-size="7.7" text-anchor="start" font-weight="normal" fill="#333" textLength="23" lengthAdjust="spacingAndGlyphs" >Women</text>
<text x="654.2" y="65.7" font-size="7.7" text-anchor="start" font-weight="normal" fill="#333" textLength="13" lengthAdjust="spacingAndGlyphs" >Men</text>
</svg>
</body></html>
